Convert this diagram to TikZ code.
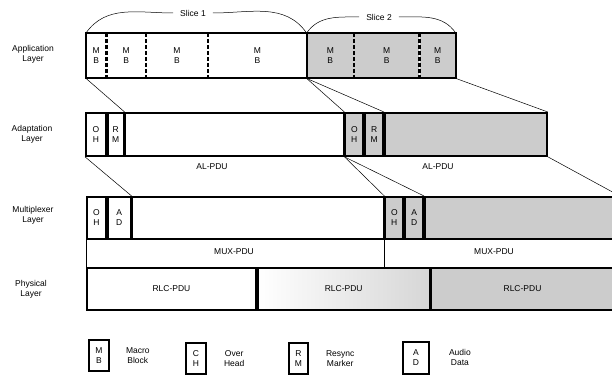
\documentclass[tikz,border=0pt]{standalone}
\usepackage{fontspec}
\setmainfont{Liberation Sans}
\usetikzlibrary{positioning}

\begin{document}
\begin{tikzpicture}[x=1pt, y=-1pt,
  schrift/.style={font=\fontsize{8.5}{10}\selectfont},
  feld/.style={schrift, inner sep=0pt, anchor=north west, align=center},
  zelle/.style={feld, draw, line width=1.8pt},
  grau/.style={fill=black!20},
  rand/.style={line width=1.8pt},
  trenn/.style={line width=2.2pt, dash pattern=on 4pt off 2pt},
  duenn/.style={line width=0.5pt},
  lbl/.style={schrift, inner sep=1pt, align=center}]
\useasboundingbox (0,0) rectangle (612,387);
% Schichtnamen
\node[lbl] (lapp) at (33,54)  {Application\\Layer};
\node[lbl] (lada) at (32,134) {Adaptation\\Layer};
\node[lbl] (lmux) at (33,215) {Multiplexer\\Layer};
\node[lbl] (lphy) at (31,289) {Physical\\Layer};
% Anwendungsschicht: Makroblöcke
\node[feld, minimum width=20, minimum height=45] (mb1) at (86,33) {M\\B};
\node[feld, minimum width=39, minimum height=45] (mb2) at (mb1.north east) {M\\B};
\node[feld, minimum width=62, minimum height=45] (mb3) at (mb2.north east) {M\\B};
\node[feld, minimum width=98, minimum height=45] (mb4) at (mb3.north east) {M\\B};
\node[feld, grau, minimum width=47, minimum height=45] (mb5) at (mb4.north east) {M\\B};
\node[feld, grau, minimum width=65, minimum height=45] (mb6) at (mb5.north east) {M\\B};
\node[feld, grau, minimum width=36, minimum height=45] (mb7) at (mb6.north east) {M\\B};
\draw[rand] (mb1.north west) rectangle (mb7.south east);
\draw[rand] (mb5.north west) -- (mb5.south west);
\foreach \n in {1,2,3,5,6}
  \draw[trenn] (mb\n.north east) -- (mb\n.south east);
% Slices
\node[lbl] (s1) at (193,13) {Slice 1};
\node[lbl] (s2) at (379,17) {Slice 2};
\draw[duenn] (mb1.north west) to[out=55,in=180] ([xshift=-6pt]s1.west);
\draw[duenn] ([xshift=6pt]s1.east) to[out=0,in=125] (mb5.north west);
\draw[duenn] (mb5.north west) to[out=55,in=180] ([xshift=-6pt]s2.west);
\draw[duenn] ([xshift=6pt]s2.east) to[out=0,in=125] (mb7.north east);
% Adaptionsschicht
\node[zelle, minimum width=20, minimum height=43] (oh1) at (85,112) {O\\H};
\node[zelle, minimum width=16, minimum height=43] (rm1) at (oh1.north east) {R\\M};
\node[zelle, minimum width=218, minimum height=43] (al1) at (rm1.north east) {};
\node[zelle, grau, minimum width=18, minimum height=43] (oh2) at (al1.north east) {O\\H};
\node[zelle, grau, minimum width=18, minimum height=43] (rm2) at (oh2.north east) {R\\M};
\node[zelle, grau, minimum width=162, minimum height=43] (al2) at (rm2.north east) {};
\draw[duenn] (mb1.south west) -- (rm1.north east);
\draw[duenn] (mb5.south west) -- (oh2.north west);
\draw[duenn] (mb5.south west) -- (rm2.north east);
\draw[duenn] (mb7.south east) -- (al2.north east);
\node[lbl] (alpdu1) at (212,167) {AL-PDU};
\node[lbl] (alpdu2) at (438,167) {AL-PDU};
% Multiplexschicht
\node[zelle, minimum width=19, minimum height=42] (oh3) at (86,196) {O\\H};
\node[zelle, minimum width=23, minimum height=42] (ad1) at (oh3.north east) {A\\D};
\node[zelle, minimum width=251, minimum height=42] (mx1) at (ad1.north east) {};
\node[zelle, grau, minimum width=18, minimum height=42] (oh4) at (mx1.north east) {O\\H};
\node[zelle, grau, minimum width=18, minimum height=42] (ad2) at (oh4.north east) {A\\D};
\node[zelle, grau, minimum width=194, minimum height=42] (mx2) at (ad2.north east) {};
\draw[duenn] (oh1.south west) -- (ad1.north east);
\draw[duenn] (oh2.south west) -- (oh4.north west);
\draw[duenn] (oh2.south west) -- (ad2.north east);
\draw[duenn] (al2.south east) -- (mx2.north east);
% Physikalische Schicht
\node[zelle, minimum width=169, minimum height=42] (rlc1) at (86,267) {RLC-PDU};
\node[zelle, left color=white, right color=black!16, minimum width=172, minimum height=42] (rlc2) at (rlc1.north east) {RLC-PDU};
\node[zelle, grau, minimum width=182, minimum height=42] (rlc3) at (rlc2.north east) {RLC-PDU};
\draw[duenn] (oh3.south west) -- (rlc1.north west);
\draw[duenn] (oh4.south west) -- (oh4.south west |- rlc1.north);
\node[lbl] (muxpdu1) at (234,252) {MUX-PDU};
\node[lbl] (muxpdu2) at (494,252) {MUX-PDU};
% Legende
\node[zelle, minimum width=20, minimum height=31] (lmb) at (88,339) {M\\B};
\node[zelle, minimum width=20, minimum height=31] (loh) at (185,342) {C\\H};
\node[zelle, minimum width=19, minimum height=31] (lrm) at (288,342) {R\\M};
\node[zelle, minimum width=26, minimum height=32] (lad) at (402,341) {A\\D};
\node[lbl, right=15pt of lmb] (tmb) {Macro\\Block};
\node[lbl, right=16pt of loh] (toh) {Over\\Head};
\node[lbl, right=16pt of lrm] (trm) {Resync\\Marker};
\node[lbl, right=18pt of lad] (tad) {Audio\\Data};
\end{tikzpicture}
\end{document}
